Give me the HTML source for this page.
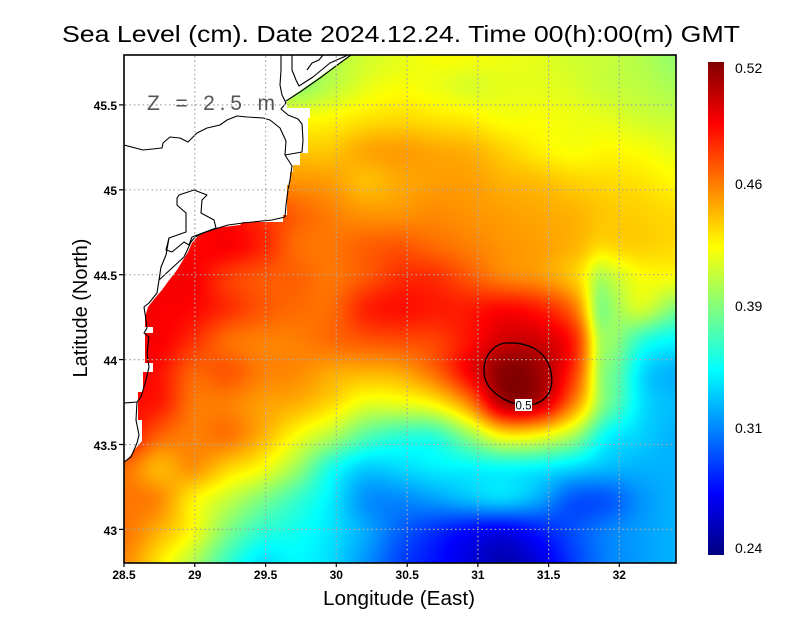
<!DOCTYPE html>
<html><head><meta charset="utf-8"><style>
html,body{margin:0;padding:0;background:#fff;}
#wrap{position:relative;width:800px;height:618px;overflow:hidden;background:#fff;}
#c{position:absolute;left:124px;top:55px;width:552px;height:508px;}
svg{position:absolute;left:0;top:0;}
text{font-family:"Liberation Sans",Arial,sans-serif;}
</style></head><body>
<div id="wrap">
<canvas id="c" width="552" height="508"></canvas>
<svg width="800" height="618" viewBox="0 0 800 618" xmlns="http://www.w3.org/2000/svg">
<defs>
<linearGradient id="jet" x1="0" y1="1" x2="0" y2="0">
<stop offset="0" stop-color="#000080"/>
<stop offset="0.125" stop-color="#0000ff"/>
<stop offset="0.375" stop-color="#00ffff"/>
<stop offset="0.5" stop-color="#80ff80"/>
<stop offset="0.625" stop-color="#ffff00"/>
<stop offset="0.875" stop-color="#ff0000"/>
<stop offset="1" stop-color="#800000"/>
</linearGradient>
</defs>
<!-- land mask -->
<path fill="#fff" d="M124,55 L350,55 L287,100 L287,108 L310,108 L310,118 L308,118 L308,153 L300,153 L300,165 L293,165 L293,172 L290,172 L290,185 L287,185 L287,215 L283,215 L283,222 L243,222 L240,225 L215,228 L205,232 L197,237 L192,243 L188,252 L183,260 L177,270 L167,283 L162,290 L155,298 L148,307 L145,317 L145,327 L153,327 L153,333 L145,333 L145,363 L153,363 L153,372 L143,372 L143,392 L138,392 L138,420 L142,420 L142,441 L136,448 L130,456 L124,463 Z"/>
<!-- coastlines -->
<g fill="none" stroke="#000" stroke-width="1.1" stroke-linejoin="round">
<path d="M292,55 L292,70 L296,80 L299,86 L313,77 L330,63 L348,55"/>
<path d="M307,70 L312,63 L319,60 L323,55"/>
<path d="M286,101 L300,92 L320,78 L340,63 L351,55"/>
<path d="M281,55 L281,70 L280,85 L282,95 L286,103 L281,109 L288,115 L298,119 L302,124 L303,140 L302,152 L285,155 L292,166 L290,180 L288,190 L286,205 L285,217 L272,220 L243,223 L228,225 L215,229 L203,233 L195,237 L191,242 L184,257"/>
<path d="M124,145 L143,150 L162,148 L163,143 L170,137 L180,138 L188,142 L197,133 L207,128 L220,125 L227,120 L237,116 L247,117 L263,118 L270,120 L280,128 L286,141 L285,155"/>
<path d="M216,228 L214,220 L201,213 L202,200 L207,195 L194,190 L179,195 L177,198 L177,205 L186,213 L186,232 L169,238 L166,250 L172,252 L184,242 L189,245 L192,237 L216,228"/>
<path d="M184,257 L159,280 L157,293 L149,303 L144,307 L146,320 L147,328 L144,333 L149,337 L147,353 L149,367 L146,380 L141,397 L137,402 L124,403 M137,402 L136,420 L139,435 L137,443 L131,457 L124,462"/>
<path d="M159,280 L161,267 L166,255 L169,238"/>
</g>
<!-- grid -->
<g stroke="#a8a8a8" stroke-width="1.2" stroke-dasharray="1.6 2.8" fill="none">
<line x1="194.8" y1="56" x2="194.8" y2="562"/>
<line x1="265.6" y1="56" x2="265.6" y2="562"/>
<line x1="336.3" y1="56" x2="336.3" y2="562"/>
<line x1="407.2" y1="56" x2="407.2" y2="562"/>
<line x1="477.9" y1="56" x2="477.9" y2="562"/>
<line x1="548.6" y1="56" x2="548.6" y2="562"/>
<line x1="619.3" y1="56" x2="619.3" y2="562"/>
<line x1="125" y1="104.9" x2="675" y2="104.9"/>
<line x1="125" y1="189.8" x2="675" y2="189.8"/>
<line x1="125" y1="274.7" x2="675" y2="274.7"/>
<line x1="125" y1="359.6" x2="675" y2="359.6"/>
<line x1="125" y1="444.5" x2="675" y2="444.5"/>
<line x1="125" y1="529.4" x2="675" y2="529.4"/>
</g>
<!-- contour -->
<path d="M507,343 C530,342 545,352 550,368 C554,383 552,398 535,404 L523,405 C510,404 498,397 490,388 C482,378 482,362 490,352 C495,346 500,343 507,343 Z" fill="none" stroke="#000" stroke-width="1.3"/>
<rect x="515" y="399" width="17" height="12" fill="#fff"/>
<text x="523.5" y="409.5" font-size="11.5" text-anchor="middle" fill="#000">0.5</text>
<!-- frame -->
<rect x="124" y="55" width="552" height="508" fill="none" stroke="#000" stroke-width="1.6"/>
<!-- ticks -->
<g stroke="#000" stroke-width="1.2">
<line x1="119" y1="104.9" x2="124" y2="104.9"/>
<line x1="119" y1="189.8" x2="124" y2="189.8"/>
<line x1="119" y1="274.7" x2="124" y2="274.7"/>
<line x1="119" y1="359.6" x2="124" y2="359.6"/>
<line x1="119" y1="444.5" x2="124" y2="444.5"/>
<line x1="119" y1="529.4" x2="124" y2="529.4"/>
<line x1="124" y1="563" x2="124" y2="567"/>
<line x1="194.8" y1="563" x2="194.8" y2="567"/>
<line x1="265.6" y1="563" x2="265.6" y2="567"/>
<line x1="336.3" y1="563" x2="336.3" y2="567"/>
<line x1="407.2" y1="563" x2="407.2" y2="567"/>
<line x1="477.9" y1="563" x2="477.9" y2="567"/>
<line x1="548.6" y1="563" x2="548.6" y2="567"/>
<line x1="619.3" y1="563" x2="619.3" y2="567"/>
</g>
<!-- y tick labels -->
<g font-size="12" font-weight="bold" text-anchor="end" fill="#000">
<text x="117" y="110">45.5</text>
<text x="117" y="195">45</text>
<text x="117" y="280">44.5</text>
<text x="117" y="365">44</text>
<text x="117" y="450">43.5</text>
<text x="117" y="535">43</text>
</g>
<!-- x tick labels -->
<g font-size="12" font-weight="bold" text-anchor="middle" fill="#000">
<text x="124" y="579">28.5</text>
<text x="194.8" y="579">29</text>
<text x="265.6" y="579">29.5</text>
<text x="336.3" y="579">30</text>
<text x="407.2" y="579">30.5</text>
<text x="477.9" y="579">31</text>
<text x="548.6" y="579">31.5</text>
<text x="619.3" y="579">32</text>
</g>
<!-- titles -->
<text x="62" y="42" font-size="23" textLength="678" lengthAdjust="spacingAndGlyphs" fill="#000">Sea Level (cm). Date 2024.12.24. Time 00(h):00(m) GMT</text>
<text x="323" y="605" font-size="20" textLength="152" lengthAdjust="spacingAndGlyphs" fill="#000">Longitude (East)</text>
<text transform="translate(87,308) rotate(-90)" x="0" y="0" font-size="20" text-anchor="middle" fill="#000">Latitude (North)</text>
<text x="147" y="110" font-size="21" textLength="128" lengthAdjust="spacing" fill="#555">Z = 2.5 m</text>
<!-- colorbar -->
<rect x="708" y="62" width="16" height="493" fill="url(#jet)"/>
<g font-size="14" fill="#000">
<text x="735" y="73">0.52</text>
<text x="735" y="189">0.46</text>
<text x="735" y="311">0.39</text>
<text x="735" y="433">0.31</text>
<text x="735" y="553">0.24</text>
</g>
</svg>
</div>
<script>
(function(){
var V=[
[0.55,0.55,0.55,0.55,0.55,0.52,0.55,0.58,0.6,0.62,0.62,0.61,0.6,0.58,0.57,0.55,0.52],
[0.55,0.55,0.55,0.55,0.55,0.52,0.56,0.6,0.62,0.61,0.59,0.6,0.6,0.59,0.57,0.56,0.54],
[0.62,0.62,0.62,0.62,0.62,0.62,0.63,0.65,0.66,0.65,0.64,0.62,0.62,0.61,0.6,0.58,0.57],
[0.7,0.7,0.7,0.7,0.7,0.68,0.68,0.71,0.72,0.71,0.7,0.67,0.64,0.62,0.63,0.62,0.6],
[0.75,0.75,0.75,0.75,0.74,0.73,0.72,0.69,0.71,0.72,0.72,0.7,0.69,0.67,0.66,0.65,0.63],
[0.85,0.85,0.85,0.85,0.82,0.78,0.75,0.73,0.73,0.74,0.73,0.72,0.71,0.7,0.68,0.67,0.66],
[0.87,0.87,0.87,0.88,0.84,0.77,0.76,0.78,0.79,0.77,0.75,0.73,0.72,0.7,0.67,0.67,0.66],
[0.88,0.88,0.88,0.82,0.79,0.78,0.76,0.79,0.83,0.83,0.79,0.75,0.73,0.68,0.58,0.62,0.62],
[0.88,0.88,0.87,0.83,0.79,0.77,0.77,0.84,0.86,0.85,0.85,0.87,0.85,0.77,0.55,0.58,0.5],
[0.88,0.88,0.83,0.77,0.75,0.75,0.77,0.79,0.8,0.81,0.86,0.92,0.92,0.85,0.58,0.42,0.37],
[0.87,0.86,0.78,0.79,0.75,0.74,0.71,0.7,0.71,0.77,0.88,0.99,0.97,0.83,0.56,0.35,0.3],
[0.86,0.85,0.76,0.75,0.72,0.7,0.66,0.6,0.6,0.63,0.74,0.94,0.93,0.75,0.52,0.35,0.31],
[0.87,0.78,0.75,0.76,0.7,0.62,0.55,0.46,0.42,0.42,0.52,0.63,0.62,0.54,0.38,0.33,0.3],
[0.77,0.7,0.73,0.67,0.62,0.53,0.4,0.33,0.34,0.36,0.37,0.38,0.37,0.34,0.31,0.3,0.3],
[0.76,0.74,0.64,0.57,0.5,0.43,0.36,0.27,0.26,0.28,0.31,0.33,0.29,0.21,0.21,0.27,0.3],
[0.76,0.7,0.62,0.5,0.42,0.39,0.35,0.29,0.22,0.17,0.13,0.11,0.15,0.2,0.25,0.28,0.3],
[0.74,0.65,0.55,0.43,0.35,0.37,0.34,0.27,0.19,0.14,0.09,0.05,0.09,0.18,0.25,0.28,0.3]
];
/* local bumps: [x,y,sx,sy,amp] in canvas coords */
var B=[[474,262,8,40,-0.07],[478,322,10,28,-0.05]];
var cv=document.getElementById('c');var ctx=cv.getContext('2d');
var W=552,H=508;var img=ctx.createImageData(W,H);var d=img.data;
function cr(p0,p1,p2,p3,t){return p1+0.5*t*(p2-p0+t*(2*p0-5*p1+4*p2-p3+t*(3*(p1-p2)+p3-p0)));}
function g(r,c){r=r<0?0:(r>16?16:r);c=c<0?0:(c>16?16:c);return V[r][c];}
function cl(x){return x<0?0:(x>1?1:x);}
for(var y=0;y<H;y++){
 var gy=(y+0.5)/31.75;var j=Math.floor(gy);var fy=gy-j;
 for(var x=0;x<W;x++){
  var gx=(x+0.5)/34.5;var i=Math.floor(gx);var fx=gx-i;
  var a=[];
  for(var k=-1;k<=2;k++){a.push(cr(g(j+k,i-1),g(j+k,i),g(j+k,i+1),g(j+k,i+2),fx));}
  var v=cr(a[0],a[1],a[2],a[3],fy);
  for(var q=0;q<B.length;q++){var bb=B[q];var dx=(x-bb[0])/bb[2],dy=(y-bb[1])/bb[3];v+=bb[4]*Math.exp(-0.5*(dx*dx+dy*dy));}
  var t=cl(v);
  var r=cl(1.5-Math.abs(4*t-3)),gg=cl(1.5-Math.abs(4*t-2)),b=cl(1.5-Math.abs(4*t-1));
  var p=(y*W+x)*4;d[p]=r*255;d[p+1]=gg*255;d[p+2]=b*255;d[p+3]=255;
 }
}
ctx.putImageData(img,0,0);
})();
</script>
</body></html>
